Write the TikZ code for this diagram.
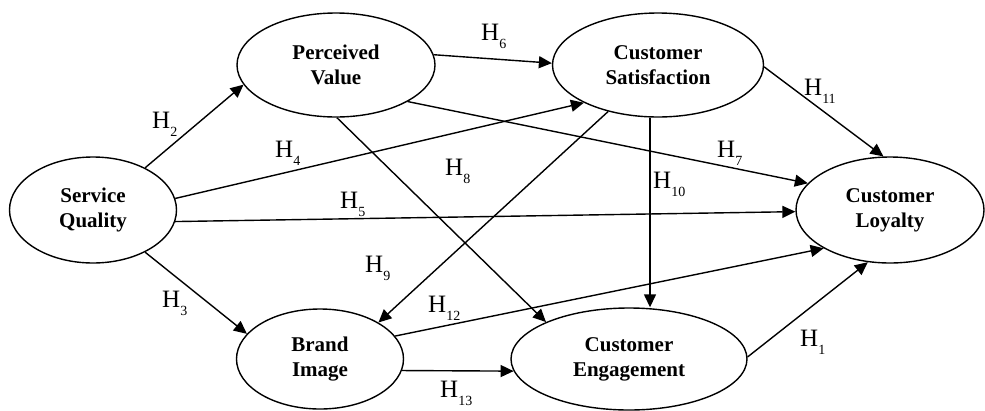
\documentclass[tikz,border=0pt]{standalone}
\usepackage{fontspec}
\setmainfont{Liberation Serif}
\usetikzlibrary{arrows.meta,shapes.geometric}
\newcommand\hlab[1]{H\raisebox{-8pt}{\fontsize{14}{14}\selectfont #1}}
\begin{document}
\begin{tikzpicture}[x=1pt,y=-1pt,
  construct/.style={draw,ellipse,line width=1.4pt,inner sep=0pt,align=center,
    font=\fontsize{21}{25}\selectfont\bfseries},
  arr/.style={line width=1.4pt,-{Triangle[length=13pt,width=12pt]}},
  hyplabel/.style={anchor=base west,inner sep=0pt,font=\fontsize{25}{25}\selectfont}]
\useasboundingbox (0,0) rectangle (985,410);
\node[construct,minimum width=167pt,minimum height=106pt] (sq) at (93,210) {Service\\Quality};
\node[construct,minimum width=198pt,minimum height=104pt] (pv) at (336,65) {Perceived\\Value};
\node[construct,minimum width=211pt,minimum height=104pt] (cs) at (658,65) {Customer\\Satisfaction};
\node[construct,minimum width=188pt,minimum height=106pt] (cl) at (890,210) {Customer\\Loyalty};
\node[construct,minimum width=167pt,minimum height=100pt] (bi) at (320,359) {Brand\\Image};
\node[construct,minimum width=236pt,minimum height=102pt] (ce) at (629,359) {Customer\\Engagement};

\draw[arr] (sq.39) -- (pv.192);
\draw[arr] (sq.8) -- (cs.207);
\draw[arr] (sq.-8) -- (cl.181);
\draw[arr] (sq.-39) -- (bi.161);
\draw[arr] (pv.6) -- (cs.179);
\draw[arr] (pv.-27) -- (cl.162);
\draw[arr] (pv.-89) -- (ce.156);
\draw[arr] (cs.-1) -- (cl.97);
\draw[arr] (cs.223) -- (bi.32);
\draw[arr] ([xshift=-8pt]cs.south) -- ([xshift=21pt]ce.north);
\draw[arr] (bi.17) -- (cl.210);
\draw[arr] (bi.-8) -- (ce.186);
\draw[arr] (ce.1.5) -- (cl.247);

\node[hyplabel] (h2) at (152,128) {\hlab{2}};
\node[hyplabel] (h4) at (275,157) {\hlab{4}};
\node[hyplabel] (h5) at (340,208) {\hlab{5}};
\node[hyplabel] (h8) at (445,175) {\hlab{8}};
\node[hyplabel] (h6) at (481,40) {\hlab{6}};
\node[hyplabel] (h11) at (804,95) {\hlab{11}};
\node[hyplabel] (h7) at (717,157) {\hlab{7}};
\node[hyplabel] (h10) at (653,188) {\hlab{10}};
\node[hyplabel] (h9) at (365,272) {\hlab{9}};
\node[hyplabel] (h3) at (162,307) {\hlab{3}};
\node[hyplabel] (h12) at (428,312) {\hlab{12}};
\node[hyplabel] (h13) at (440,397) {\hlab{13}};
\node[hyplabel] (h1) at (800,346) {\hlab{1}};
\end{tikzpicture}
\end{document}
